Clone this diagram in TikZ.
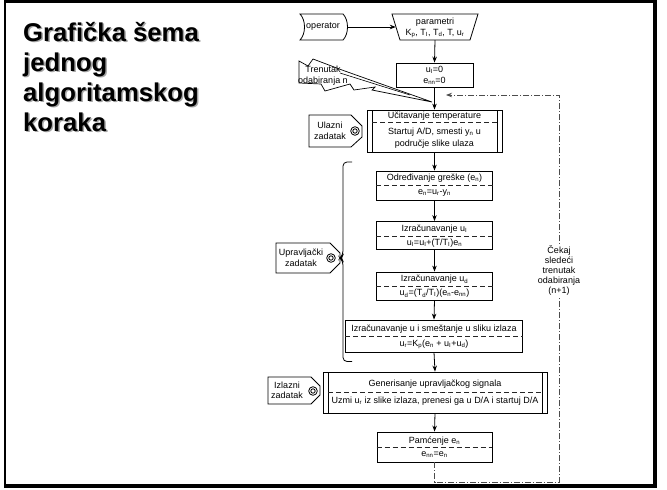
\documentclass[tikz,border=0pt]{standalone}
\usepackage{fontspec}
\setmainfont{Liberation Sans}
\usetikzlibrary{arrows.meta,calc}
\newcommand\lo[1]{\textsubscript{#1}}
\begin{document}
\begin{tikzpicture}[x=1pt,y=-1pt,
  line/.style={line width=0.8pt,draw=black},
  arr/.style={line width=0.8pt,-{Stealth[length=6pt,width=4.5pt]}},
  box/.style={draw,line width=0.8pt,inner sep=0pt,minimum width=#1},
  hole/.style={inner sep=0pt,minimum width=#1},
  txt/.style={inner sep=0pt,font=\fontsize{9}{10.5}\selectfont,align=center},
  sep/.style={draw=black!85,line width=0.7pt,dash pattern=on 5pt off 3pt},
  loopline/.style={draw=black!70,line width=0.8pt,dash pattern=on 6pt off 2pt on 1pt off 2pt},
  title/.style={anchor=base west,inner sep=0pt,font=\fontsize{25.7}{30}\selectfont\bfseries},
]
\useasboundingbox (0,0) rectangle (667,490);

% frame
\draw[line width=2pt] (5,1) -- (5,487);
\draw[line width=2.6pt] (4,1.5) -- (657,1.5);
\draw[line width=4pt] (655,0) -- (655,488);
\draw[line width=4pt] (4,486) -- (657,486);

% heading with soft shadow
\foreach \yy/\tt [count=\i] in {41/{Grafička šema},71/{jednog},101/{algoritamskog},131/{koraka}}{
  \node[title,text=black!35] (hs\i) at (24.5,\yy+1.5) {\tt};
  \node[title] (h\i) at (23,\yy) {\tt};
}

% operator input
\draw[line] (300,14) -- (343,14) .. controls (349,20) and (349,34) .. (343,40)
  -- (300,40) .. controls (306,34) and (306,20) .. (300,14) -- cycle;
\node[hole=47,minimum height=26pt] (op) at (323.5,27) {};
\node[txt] (opt) at (323,27) {operator};

% parameter entry
\draw[line] (392,14) -- (478,14) -- (470,40) -- (400,40) -- cycle;
\node[hole=78,minimum height=26pt] (par) at (435,27) {};
\node[txt] (part1) at (435,22) {parametri};
\node[txt] (part2) at (435,33.5) {K\lo{p}, T\lo{I}, T\lo{d}, T, u\lo{r}};

% initial values
\node[box=77,minimum height=24pt] (ini) at (434.5,75) {};
\node[txt] (ini1) at (434.5,69.5) {u\lo{I}=0};
\node[txt] (ini2) at (434.5,81) {e\lo{nn}=0};

% sampling instant (lightning)
\draw[line,line width=0.7pt] (299,61) -- (308,66) -- (313,59) -- (342,70) -- (432,102)
  -- (372,90) -- (375,87) -- (354,90) -- (350,84) -- (325,91) -- (321,84) -- (299,83) -- cycle;
\draw[line,line width=0.6pt] (340,73) -- (410,95);
\node[txt] (tr) at (323,75.5) {Trenutak\\odabiranja n};

% reading temperature
\node[box=135,minimum height=42pt] (uc) at (434.5,131) {};
\draw[line] (372,110) -- (372,152) (497,110) -- (497,152);
\draw[sep] (372,122.5) -- (497,122.5);
\node[txt] (uc1) at (434.5,116) {Učitavanje temperature};
\node[txt] (uc2) at (434.5,132.5) {Startuj A/D, smesti y\lo{n} u};
\node[txt] (uc3) at (434.5,144.5) {područje slike ulaza};

% error
\node[box=116,minimum height=29pt] (od) at (434.5,185.5) {};
\draw[sep] (od.west |- 0,185) -- (od.east |- 0,185);
\node[txt] (od1) at (434.5,178) {Određivanje greške (e\lo{n})};
\node[txt] (od2) at (434.5,193.5) {e\lo{n}=u\lo{r}-y\lo{n}};

% integral term
\node[box=116,minimum height=28pt] (ui) at (434.5,235.5) {};
\draw[sep] (ui.west |- 0,236) -- (ui.east |- 0,236);
\node[txt] (ui1) at (434.5,229) {Izračunavanje u\lo{I}};
\node[txt] (ui2) at (434.5,243.5) {u\lo{I}=u\lo{I}+(T/T\lo{I})e\lo{n}};

% derivative term
\node[box=116,minimum height=28pt] (ud) at (434.5,286) {};
\draw[sep] (ud.west |- 0,286) -- (ud.east |- 0,286);
\node[txt] (ud1) at (434.5,279.5) {Izračunavanje u\lo{d}};
\node[txt] (ud2) at (434.5,293.5) {u\lo{d}=(T\lo{d}/T\lo{I})(e\lo{n}-e\lo{nn})};

% control output
\node[box=177,minimum height=32pt] (cu) at (434,336) {};
\draw[sep] (cu.west |- 0,336.5) -- (cu.east |- 0,336.5);
\node[txt] (cu1) at (434,329) {Izračunavanje u i smeštanje u sliku izlaza};
\node[txt] (cu2) at (434,344.5) {u\lo{r}=K\lo{p}(e\lo{n} + u\lo{I}+u\lo{d})};

% signal generation
\node[box=224,minimum height=41pt] (gen) at (435,392.5) {};
\draw[line] (328,372) -- (328,413) (542,372) -- (542,413);
\draw[sep] (328,392.5) -- (542,392.5);
\node[txt] (gen1) at (435,384) {Generisanje upravljačkog signala};
\node[txt] (gen2) at (435,401.5) {Uzmi u\lo{r} iz slike izlaza, prenesi ga u D/A i startuj D/A};

% storing error
\node[box=115,minimum height=30pt] (pam) at (434.5,447) {};
\draw[sep] (pam.west |- 0,447.5) -- (pam.east |- 0,447.5);
\node[txt] (pam1) at (434.5,441) {Pamćenje e\lo{n}};
\node[txt] (pam2) at (434.5,454.5) {e\lo{nn}=e\lo{n}};

% main flow
\draw[arr] (op.east) -- (par.west);
\draw[arr] (par.south) -- (ini.north);
\draw[arr] (ini.south) -- (uc.north);
\draw[arr] (uc.south) -- (od.north);
\draw[arr] (od.south) -- (ui.north);
\draw[arr] (ui.south) -- (ud.north);
\draw[arr] (ud.south) -- (cu.north);
\draw[arr] (cu.south) -- (gen.north);
\draw[arr] (gen.south) -- (pam.north);

% return to next sample
\coordinate (lb) at (559,482);
\coordinate (lt) at (559,95);
\coordinate (le) at (446,95);
\draw[loopline,-{Stealth[length=6pt,width=4.5pt]}] (pam.south) |- (lb) -- (lt) -- (le);
\node[txt,fill=white,inner sep=1.5pt,font=\fontsize{9}{10}\selectfont] (wait) at (559,270.5)
  {Čekaj\\sledeći\\trenutak\\odabiranja\\(n+1)};

% task tags
\draw[line] (309,115) -- (351,115) -- (362,126) -- (362,137) -- (351,147) -- (309,147) -- cycle;
\node[txt] (t1) at (330,131) {Ulazni\\zadatak};
\draw[line] (355,131) circle (4.3) (355,131) circle (2.2);

\draw[line] (276,243) -- (330,243) -- (340,253) -- (340,263) -- (330,273) -- (276,273) -- cycle;
\node[txt] (t2) at (301,258) {Upravljački\\zadatak};
\draw[line] (331,258) circle (4.3) (331,258) circle (2.2);

\draw[line] (268,377) -- (311,377) -- (320,386) -- (320,395) -- (311,404) -- (268,404) -- cycle;
\node[txt] (t3) at (287,390.5) {Izlazni\\zadatak};
\draw[line] (313,391) circle (4.3) (313,391) circle (2.2);

% brace grouping the control task
\draw[line,rounded corners=4pt] (352,162) -- (343,162) -- (343,255) -- (340,258)
  -- (343,261) -- (343,361.5) -- (352,361.5);
\end{tikzpicture}
\end{document}
